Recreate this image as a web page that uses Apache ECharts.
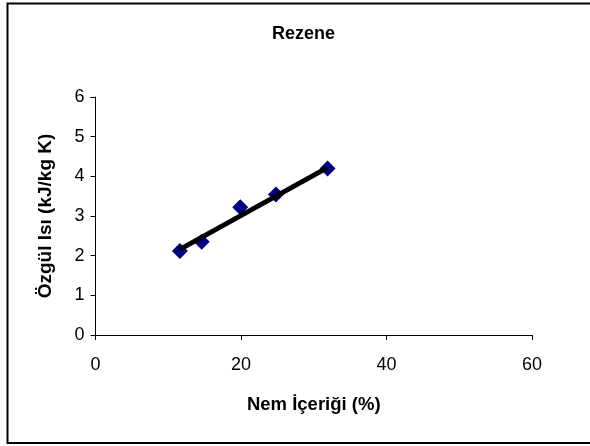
<!DOCTYPE html>
<html>
<head>
<meta charset="utf-8">
<script src="https://cdn.jsdelivr.net/npm/echarts@6/dist/echarts.min.js"></script>
<style>html,body{margin:0;padding:0;background:#fff;}#c{width:590px;height:446px;}</style>
</head>
<body>
<div id="c"></div>
<script>
var titleText = "Rezene";
var xName = "Nem İçeriği (%)";
var yName = "Özgül Isı (kJ/kg K)";
var moisture = [11.6, 14.6, 19.9, 24.8, 31.9];
var specificHeat = [2.12, 2.35, 3.22, 3.54, 4.2];
var trendX = [11.6, 31.7];
var trendY = [2.16, 4.2];

var pts = moisture.map(function (v, i) { return [v, specificHeat[i]]; });
var trend = trendX.map(function (v, i) { return [v, trendY[i]]; });

var chart = echarts.init(document.getElementById('c'), null, {renderer: 'canvas'});
var F = 'Liberation Sans, Arial, sans-serif';
chart.setOption({
  animation: false,
  backgroundColor: '#fff',
  title: {text: titleText, left: 267, top: 20,
    textStyle: {fontFamily: F, fontSize: 18, fontWeight: 'bold', color: '#000'}},
  graphic: [{type: 'rect', shape: {x: 7.5, y: 3.5, width: 600, height: 439.5},
    style: {fill: 'none', stroke: '#000', lineWidth: 2}, z: 100}],
  grid: {left: 95.5, right: 58, top: 97, bottom: 111, containLabel: false},
  xAxis: {type: 'value', min: 0, max: 60, interval: 20,
    name: xName, nameLocation: 'middle', nameGap: 60,
    nameTextStyle: {fontFamily: F, fontSize: 18.5, fontWeight: 'bold', color: '#000'},
    axisLine: {lineStyle: {color: '#000', width: 1}},
    axisTick: {show: true, length: 5, lineStyle: {color: '#000'}},
    axisLabel: {fontFamily: F, fontSize: 18, color: '#000', margin: 21},
    splitLine: {show: false}},
  yAxis: {type: 'value', min: 0, max: 6, interval: 1,
    name: yName, nameLocation: 'middle', nameGap: 40,
    nameTextStyle: {fontFamily: F, fontSize: 19, fontWeight: 'bold', color: '#000'},
    axisLine: {show: true, lineStyle: {color: '#000', width: 1}},
    axisTick: {show: true, length: 5, lineStyle: {color: '#000'}},
    axisLabel: {fontFamily: F, fontSize: 18, color: '#000', margin: 11},
    splitLine: {show: false}},
  series: [
    {type: 'scatter', data: pts, symbol: 'diamond', symbolSize: 16,
      itemStyle: {color: '#000080', opacity: 1}, z: 2},
    {type: 'line', data: trend, symbol: 'none', lineStyle: {color: '#000', width: 5}, z: 3}
  ]
});
</script>
</body>
</html>
